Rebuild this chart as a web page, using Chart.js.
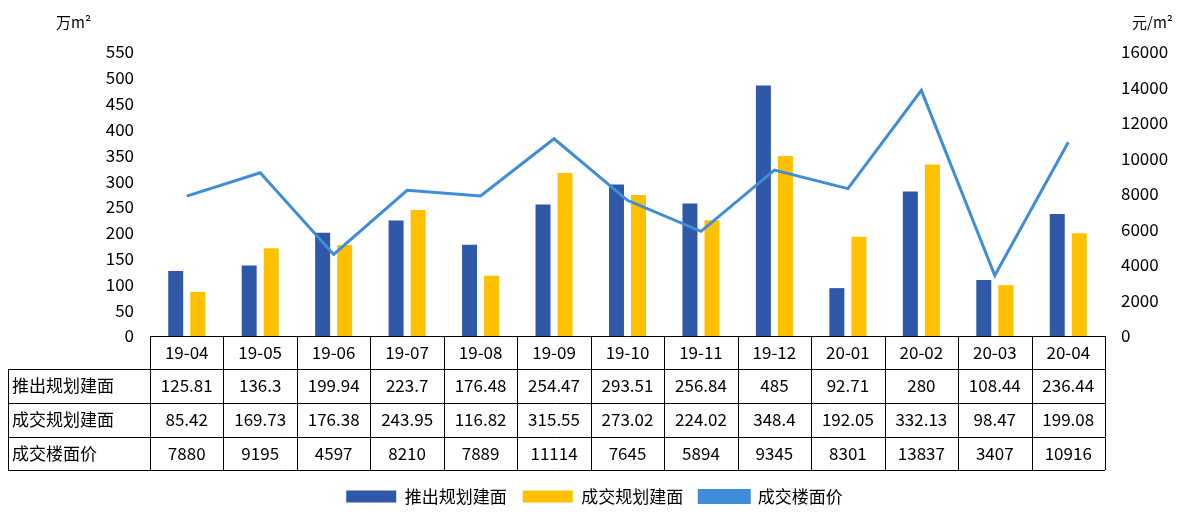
<!DOCTYPE html>
<html><head><meta charset="utf-8">
<script src="https://cdn.jsdelivr.net/npm/chart.js@4"></script>
<style>body{margin:0;background:#fff}#w{width:1189px;height:519px}</style>
</head><body><div id="w"><canvas id="c"></canvas></div>
<script>
const categories=['19-04','19-05','19-06','19-07','19-08','19-09','19-10','19-11','19-12','20-01','20-02','20-03','20-04'];
const launched=[125.81,136.3,199.94,223.7,176.48,254.47,293.51,256.84,485,92.71,280,108.44,236.44];
const sold=[85.42,169.73,176.38,243.95,116.82,315.55,273.02,224.02,348.4,192.05,332.13,98.47,199.08];
const price=[7880,9195,4597,8210,7889,11114,7645,5894,9345,8301,13837,3407,10916];
const names=['推出规划建面','成交规划建面','成交楼面价'];
const FONT='"Noto Sans CJK SC", sans-serif';
const tablePlugin={id:'tbl',afterDraw(ch){
 const ctx=ch.ctx,a=ch.chartArea,xs=ch.scales.x;
 const n=categories.length,cw=(a.right-a.left)/n;
 const rows=[a.bottom,a.bottom+33,a.bottom+67,a.bottom+101,a.bottom+134];
 const L=8;
 ctx.save();ctx.strokeStyle='#000';ctx.lineWidth=1;
 ctx.beginPath();
 ctx.moveTo(a.left,rows[0]+.5);ctx.lineTo(a.right,rows[0]+.5);
 for(let r=1;r<5;r++){ctx.moveTo(L,rows[r]+.5);ctx.lineTo(a.right,rows[r]+.5);}
 ctx.moveTo(L+.5,rows[1]);ctx.lineTo(L+.5,rows[4]);
 for(let i=0;i<=n;i++){const x=Math.round(a.left+i*cw)+.5;ctx.moveTo(x,rows[0]);ctx.lineTo(x,rows[4]);}
 ctx.stroke();
 ctx.fillStyle='#000';ctx.font='17px '+FONT;ctx.textBaseline='middle';
 const data=[launched,sold,price];
 ctx.textAlign='center';
 categories.forEach((c,i)=>ctx.fillText(c,xs.getPixelForValue(i),(rows[0]+rows[1])/2));
 for(let r=0;r<3;r++){
  const y=(rows[r+1]+rows[r+2])/2;
  ctx.textAlign='left';ctx.fillText(names[r],L+4,y);
  ctx.textAlign='center';
  data[r].forEach((v,i)=>ctx.fillText(String(v),xs.getPixelForValue(i),y));
 }
 ctx.font='15px '+FONT;ctx.textAlign='left';ctx.fillText('万m²',56,22);
 ctx.fillText('元/m²',1132,22);
 ctx.restore();
}};
new Chart(document.getElementById('c'),{
 data:{labels:categories,datasets:[
  {type:'line',label:names[2],data:price,yAxisID:'y1',borderColor:'#3F8CD8',backgroundColor:'#3F8CD8',borderWidth:3,pointRadius:0,tension:0,order:0},
  {type:'bar',label:names[0],data:launched,yAxisID:'y',backgroundColor:'#2F58A8',categoryPercentage:0.6,barPercentage:0.68,order:1},
  {type:'bar',label:names[1],data:sold,yAxisID:'y',backgroundColor:'#FFC000',categoryPercentage:0.6,barPercentage:0.68,order:1}
 ]},
 options:{responsive:true,maintainAspectRatio:false,animation:false,
  layout:{padding:{top:52,left:0,right:0,bottom:4}},
  plugins:{tooltip:{enabled:false},legend:{position:'bottom',
   labels:{font:{family:FONT,size:17},color:'#000',boxWidth:50,boxHeight:12,padding:16,
   sort:(a,b)=>[1,2,0].indexOf(a.datasetIndex)-[1,2,0].indexOf(b.datasetIndex)}}},
  scales:{
   x:{grid:{display:false},border:{display:false},ticks:{display:false},afterFit(s){s.height=136;}},
   y:{position:'left',min:0,max:550,ticks:{stepSize:50,color:'#000',font:{family:FONT,size:17},padding:8},grid:{display:false},border:{display:false},afterFit(s){s.width=150;}},
   y1:{position:'right',min:0,max:16000,ticks:{stepSize:2000,color:'#000',font:{family:FONT,size:17},padding:8,callback:v=>String(v)},grid:{display:false},border:{display:false},afterFit(s){s.width=84;}}
  }},
 plugins:[tablePlugin]
});
</script></body></html>
